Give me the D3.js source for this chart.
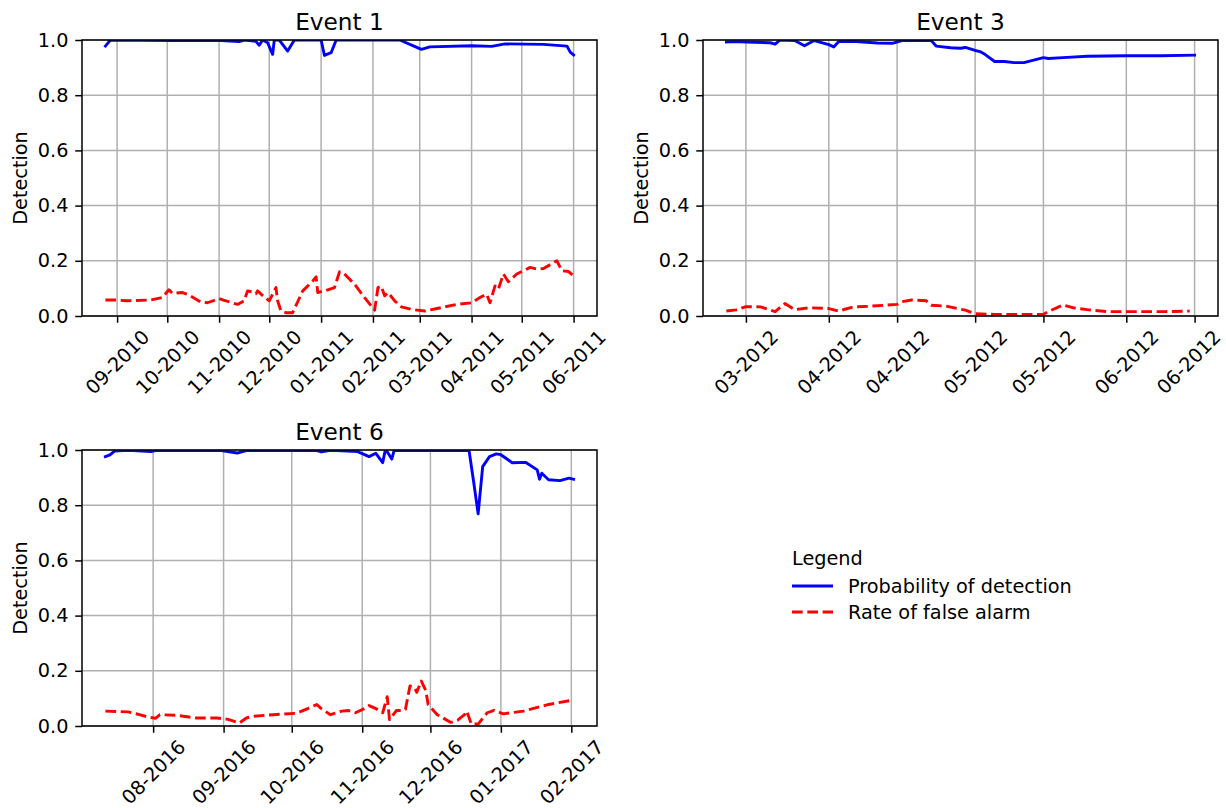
<!DOCTYPE html>
<html><head><meta charset="utf-8">
<script src="https://cdn.jsdelivr.net/npm/d3@7"></script>
<style>
body{margin:0;background:#fff}
svg{display:block}
text{font-family:"DejaVu Sans",sans-serif;fill:#000}
</style>
</head><body>
<svg id="chart" width="1226" height="808"></svg>
<script>
// ---------------- DATA ----------------
const seriesNames = ["Probability of detection", "Rate of false alarm"];
const legendTitle = "Legend";
const yLabel = "Detection";
const yTicks = [0, 0.2, 0.4, 0.6, 0.8, 1.0];

// Event 1
const e1PdDates = ["2010-08-25","2010-08-28","2010-10-04","2010-10-21","2010-11-02","2010-11-13","2010-11-16","2010-11-23","2010-11-25","2010-11-27","2010-11-30","2010-12-03","2010-12-04","2010-12-07","2010-12-12","2010-12-16","2011-01-01","2011-01-03","2011-01-07","2011-01-10","2011-02-17","2011-03-02","2011-03-07","2011-04-01","2011-04-13","2011-04-21","2011-05-14","2011-05-28","2011-05-30","2011-06-01"];
const e1PdValues = [0.978,1.0,0.998,0.998,0.998,0.994,1.0,0.995,0.981,1.0,0.99,0.948,1.0,1.0,0.960,1.0,1.0,0.944,0.954,1.0,1.0,0.966,0.975,0.979,0.977,0.986,0.984,0.978,0.956,0.946];
const e1FarDates = ["2010-08-25","2010-08-31","2010-09-07","2010-09-21","2010-09-28","2010-10-02","2010-10-04","2010-10-10","2010-10-14","2010-10-21","2010-10-25","2010-11-01","2010-11-04","2010-11-12","2010-11-16","2010-11-18","2010-11-21","2010-11-23","2010-11-24","2010-11-28","2010-12-01","2010-12-05","2010-12-06","2010-12-08","2010-12-11","2010-12-15","2010-12-21","2010-12-27","2010-12-29","2010-12-30","2011-01-04","2011-01-09","2011-01-12","2011-01-15","2011-01-21","2011-01-27","2011-02-02","2011-02-04","2011-02-06","2011-02-08","2011-02-10","2011-02-14","2011-02-18","2011-02-24","2011-03-04","2011-03-12","2011-03-23","2011-04-01","2011-04-06","2011-04-10","2011-04-12","2011-04-15","2011-04-17","2011-04-20","2011-04-23","2011-04-28","2011-05-06","2011-05-10","2011-05-14","2011-05-22","2011-05-25","2011-05-29","2011-06-01"];
const e1FarValues = [0.058,0.058,0.055,0.058,0.067,0.095,0.082,0.085,0.076,0.051,0.048,0.063,0.057,0.042,0.055,0.091,0.087,0.081,0.091,0.069,0.055,0.103,0.055,0.018,0.012,0.012,0.091,0.127,0.142,0.085,0.093,0.103,0.160,0.152,0.115,0.067,0.021,0.103,0.108,0.073,0.085,0.055,0.033,0.024,0.018,0.028,0.042,0.048,0.067,0.079,0.048,0.109,0.097,0.152,0.124,0.152,0.176,0.170,0.172,0.200,0.164,0.161,0.145];
const e1Ticks = ["2010-09-01","2010-10-01","2010-11-01","2010-12-01","2011-01-01","2011-02-01","2011-03-01","2011-04-01","2011-05-01","2011-06-01"];

// Event 3
const e3PdDates = ["2012-03-11","2012-03-13","2012-03-15","2012-03-20","2012-03-21","2012-03-22","2012-03-25","2012-03-27","2012-03-29","2012-04-01","2012-04-02","2012-04-03","2012-04-06","2012-04-08","2012-04-11","2012-04-14","2012-04-16","2012-04-22","2012-04-23","2012-04-26","2012-04-28","2012-04-29","2012-05-01","2012-05-02","2012-05-03","2012-05-05","2012-05-07","2012-05-09","2012-05-11","2012-05-13","2012-05-15","2012-05-16","2012-05-19","2012-05-24","2012-06-01","2012-06-08","2012-06-15"];
const e3PdValues = [0.993,0.994,0.993,0.990,0.985,1.0,0.998,0.979,0.998,0.983,0.975,0.994,0.995,0.993,0.989,0.988,0.998,0.998,0.978,0.972,0.970,0.973,0.962,0.958,0.948,0.922,0.922,0.918,0.918,0.927,0.936,0.933,0.936,0.941,0.943,0.943,0.945];
const e3FarDates = ["2012-03-11","2012-03-13","2012-03-15","2012-03-18","2012-03-21","2012-03-23","2012-03-25","2012-03-28","2012-04-01","2012-04-03","2012-04-06","2012-04-09","2012-04-15","2012-04-16","2012-04-18","2012-04-21","2012-04-22","2012-04-25","2012-04-29","2012-05-01","2012-05-05","2012-05-15","2012-05-16","2012-05-19","2012-05-21","2012-05-24","2012-05-28","2012-06-04","2012-06-09","2012-06-14"];
const e3FarValues = [0.018,0.022,0.034,0.033,0.016,0.045,0.023,0.030,0.027,0.018,0.033,0.035,0.042,0.052,0.058,0.055,0.039,0.036,0.021,0.008,0.006,0.006,0.016,0.040,0.030,0.023,0.016,0.016,0.016,0.018];
const e3Ticks = ["2012-03-15","2012-04-01","2012-04-15","2012-05-01","2012-05-15","2012-06-01","2012-06-15"];

// Event 6
const e6PdDates = ["2016-07-11","2016-07-13","2016-07-15","2016-07-21","2016-07-31","2016-08-02","2016-08-31","2016-09-07","2016-09-11","2016-10-12","2016-10-14","2016-10-18","2016-10-30","2016-11-04","2016-11-07","2016-11-10","2016-11-11","2016-11-12","2016-11-14","2016-11-15","2016-12-18","2016-12-20","2016-12-22","2016-12-24","2016-12-27","2016-12-30","2017-01-01","2017-01-06","2017-01-12","2017-01-17","2017-01-18","2017-01-19","2017-01-22","2017-01-27","2017-01-31","2017-02-02"];
const e6PdValues = [0.976,0.982,0.996,0.999,0.994,0.998,0.998,0.989,0.998,0.998,0.993,0.999,0.994,0.976,0.988,0.954,0.994,0.994,0.967,0.998,0.998,0.886,0.769,0.940,0.976,0.986,0.983,0.954,0.955,0.928,0.894,0.916,0.892,0.889,0.898,0.894];
const e6FarDates = ["2016-07-11","2016-07-21","2016-07-26","2016-07-30","2016-08-02","2016-08-04","2016-08-11","2016-08-20","2016-08-29","2016-09-03","2016-09-08","2016-09-11","2016-09-14","2016-09-23","2016-10-03","2016-10-08","2016-10-12","2016-10-14","2016-10-18","2016-10-23","2016-10-26","2016-10-29","2016-11-02","2016-11-04","2016-11-07","2016-11-10","2016-11-12","2016-11-13","2016-11-16","2016-11-19","2016-11-20","2016-11-22","2016-11-24","2016-11-25","2016-11-27","2016-11-29","2016-11-30","2016-12-04","2016-12-10","2016-12-13","2016-12-16","2016-12-17","2016-12-19","2016-12-22","2016-12-26","2016-12-29","2017-01-02","2017-01-11","2017-01-22","2017-02-01"];
const e6FarValues = [0.054,0.051,0.041,0.032,0.028,0.041,0.039,0.029,0.029,0.024,0.011,0.029,0.035,0.041,0.046,0.063,0.078,0.063,0.041,0.054,0.056,0.048,0.063,0.074,0.063,0.048,0.106,0.023,0.056,0.056,0.060,0.145,0.139,0.122,0.163,0.128,0.078,0.041,0.013,0.021,0.041,0.054,0.007,0.007,0.048,0.057,0.044,0.054,0.078,0.093];
const e6Ticks = ["2016-08-01","2016-09-01","2016-10-01","2016-11-01","2016-12-01","2017-01-01","2017-02-01"];

const panels = [
  {title:"Event 1", pdDates:e1PdDates, pdValues:e1PdValues, farDates:e1FarDates, farValues:e1FarValues, ticks:e1Ticks, x:82, y:40},
  {title:"Event 3", pdDates:e3PdDates, pdValues:e3PdValues, farDates:e3FarDates, farValues:e3FarValues, ticks:e3Ticks, x:703, y:40},
  {title:"Event 6", pdDates:e6PdDates, pdValues:e6PdValues, farDates:e6FarDates, farValues:e6FarValues, ticks:e6Ticks, x:82, y:450}
];

// ---------------- STYLE ----------------
const SVG_W = 1226, SVG_H = 808;
const W = 515, H = 276;
const FS = 19.3, TITLE_FS = 23.2;
const TL = 6.75, TP = 6.75;
const BLUE = "#0000ff", RED = "#ff0000";
const LW = 2.9;
const DASH = "10.7,4.6";
const parse = d3.timeParse("%Y-%m-%d");
const fmt = d3.timeFormat("%m-%Y");
const svg = d3.select("#chart");

panels.forEach((p, i) => {
  const g = svg.append("g").attr("transform", `translate(${p.x},${p.y})`);
  const pd = p.pdDates.map((d, k) => ({date: parse(d), v: p.pdValues[k]}));
  const far = p.farDates.map((d, k) => ({date: parse(d), v: p.farValues[k]}));
  const [mn, mx] = d3.extent(pd.concat(far), d => d.date);
  const pad = (mx - mn) * 0.05;
  const x = d3.scaleTime().domain([new Date(+mn - pad), new Date(+mx + pad)]).range([0, W]);
  const y = d3.scaleLinear().domain([0, 1]).range([H, 0]);
  const ticks = p.ticks.map(parse);

  // grid
  g.append("g").selectAll("line").data(ticks).join("line")
    .attr("x1", d => x(d)).attr("x2", d => x(d)).attr("y1", 0).attr("y2", H)
    .attr("stroke", "#b0b0b0").attr("stroke-width", 1.5);
  g.append("g").selectAll("line").data(yTicks).join("line")
    .attr("x1", 0).attr("x2", W).attr("y1", d => y(d)).attr("y2", d => y(d))
    .attr("stroke", "#b0b0b0").attr("stroke-width", 1.5);

  // clip
  const cid = "clip" + i;
  g.append("clipPath").attr("id", cid).append("rect").attr("width", W).attr("height", H);

  const line = d3.line().x(d => x(d.date)).y(d => y(d.v));
  const lg = g.append("g").attr("clip-path", `url(#${cid})`);
  lg.append("path").datum(pd).attr("d", line).attr("fill", "none")
    .attr("stroke", BLUE).attr("stroke-width", LW).attr("stroke-linejoin", "round").attr("stroke-linecap", "square");
  lg.append("path").datum(far).attr("d", line).attr("fill", "none")
    .attr("stroke", RED).attr("stroke-width", LW).attr("stroke-dasharray", DASH).attr("stroke-linejoin", "round");

  // spines
  g.append("rect").attr("width", W).attr("height", H).attr("fill", "none")
    .attr("stroke", "#000").attr("stroke-width", 1.5);

  // y axis
  const ya = g.append("g").call(d3.axisLeft(y).tickValues(yTicks).tickFormat(d3.format(".1f")).tickSize(TL).tickPadding(TP));
  ya.select(".domain").remove();
  ya.selectAll(".tick line").attr("stroke-width", 1.5);
  ya.selectAll("text").attr("font-size", FS).attr("font-family", "DejaVu Sans");

  // x axis
  const xa = g.append("g").attr("transform", `translate(0,${H})`)
    .call(d3.axisBottom(x).tickValues(ticks).tickFormat(fmt).tickSize(TL).tickPadding(TP));
  xa.select(".domain").remove();
  xa.selectAll(".tick line").attr("stroke-width", 1.5);
  xa.selectAll("text").attr("font-size", FS).attr("font-family", "DejaVu Sans")
    .each(function() {
      const t = d3.select(this);
      const w = this.getComputedTextLength();
      const h = FS * 1.0;
      const cy = TL + TP - 2.5 + (w + h) * Math.SQRT1_2 / 2;
      t.attr("text-anchor", "middle").attr("dy", null).attr("dominant-baseline", "central")
        .attr("x", 0).attr("y", cy).attr("transform", `rotate(-45,0,${cy})`);
      // keep the rotated label inside the picture
      const r = this.getBoundingClientRect();
      const over = r.right - (SVG_W - 0.5);
      if (over > 0) {
        t.attr("x", -over * Math.SQRT1_2).attr("y", cy - over * Math.SQRT1_2);
      }
    });

  // y label
  g.append("text").attr("transform", `translate(${-61.5},${H / 2}) rotate(-90)`)
    .attr("text-anchor", "middle").attr("dominant-baseline", "central")
    .attr("font-size", FS).text(yLabel);

  // title
  g.append("text").attr("x", W / 2).attr("y", -10).attr("text-anchor", "middle")
    .attr("font-size", TITLE_FS).text(p.title);
});

// legend
const leg = svg.append("g").attr("transform", "translate(792,0)");
leg.append("text").attr("x", 0).attr("y", 565).attr("font-size", FS).text(legendTitle);
const legItems = [{name: seriesNames[0], color: BLUE, dash: null, y: 586},
                  {name: seriesNames[1], color: RED, dash: DASH, y: 612}];
legItems.forEach(it => {
  leg.append("line").attr("x1", 0).attr("x2", 41).attr("y1", it.y).attr("y2", it.y)
    .attr("stroke", it.color).attr("stroke-width", LW).attr("stroke-dasharray", it.dash);
  leg.append("text").attr("x", 56).attr("y", it.y).attr("dominant-baseline", "central")
    .attr("font-size", FS).text(it.name);
});
</script>
</body></html>
